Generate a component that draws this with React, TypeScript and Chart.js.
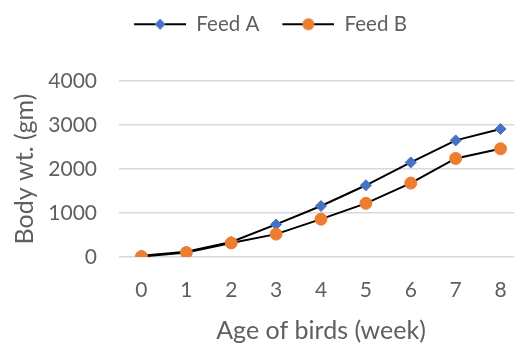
import React, { useEffect, useRef } from 'react';
import { Chart, registerables } from 'chart.js';

Chart.register(...registerables);

const ages = ['0', '1', '2', '3', '4', '5', '6', '7', '8'];
const feedA = [30, 120, 340, 740, 1160, 1630, 2150, 2650, 2910];
const feedB = [10, 100, 320, 520, 860, 1220, 1680, 2240, 2460];
const yMin = 0;
const yMax = 4000;
const yStep = 1000;

const FONT = 'Lato';
const TEXT = '#5f5f5f';
const GRID = '#d9d9d9';
const BLUE = '#4472c4';
const ORANGE = '#ed7d31';

function makeMarker(kind: 'diamond' | 'circle') {
  const c = document.createElement('canvas');
  const lead = 13;
  const len = 52;
  c.width = lead + len;
  c.height = 16;
  const ctx = c.getContext('2d')!;
  ctx.strokeStyle = '#000';
  ctx.lineWidth = 2;
  ctx.beginPath();
  ctx.moveTo(lead, 8);
  ctx.lineTo(lead + len, 8);
  ctx.stroke();
  const cx = lead + len / 2;
  ctx.beginPath();
  if (kind === 'diamond') {
    ctx.fillStyle = BLUE;
    ctx.moveTo(cx, 8 - 5.5);
    ctx.lineTo(cx + 5.5, 8);
    ctx.lineTo(cx, 8 + 5.5);
    ctx.lineTo(cx - 5.5, 8);
    ctx.closePath();
  } else {
    ctx.fillStyle = ORANGE;
    ctx.arc(cx, 8, 6, 0, Math.PI * 2);
  }
  ctx.fill();
  return c;
}

export default function App() {
  const ref = useRef<HTMLCanvasElement>(null);
  useEffect(() => {
    const canvas = ref.current!;
    const tickFont = { family: FONT, size: 21 };
    const titleFont = { family: FONT, size: 25 };
    const legendFont = { family: FONT, size: 20.5 };
    const markers = [makeMarker('diamond'), makeMarker('circle')];
    const legendFit = {
      id: 'legendFit',
      beforeInit(chart: any) {
        const lg = chart.legend;
        if (!lg) return;
        const orig = lg.fit.bind(lg);
        lg.fit = function () {
          orig();
          this.height = 77;
        };
      },
    };
    const chart = new Chart(canvas, {
      type: 'line',
      data: {
        labels: ages,
        datasets: [
          {
            label: 'Feed A',
            data: feedA,
            borderColor: '#000',
            borderWidth: 2,
            pointStyle: 'rectRot',
            pointRadius: 5.5,
            pointBackgroundColor: BLUE,
            pointBorderColor: BLUE,
            pointBorderWidth: 1,
            tension: 0,
            order: 1,
          },
          {
            label: 'Feed B',
            data: feedB,
            borderColor: '#000',
            borderWidth: 2,
            pointStyle: 'circle',
            pointRadius: 6,
            pointBackgroundColor: ORANGE,
            pointBorderColor: ORANGE,
            pointBorderWidth: 1,
            tension: 0,
            order: 0,
          },
        ],
      },
      options: {
        animation: false,
        responsive: false,
        devicePixelRatio: 1,
        layout: { padding: { top: 4, right: 2, bottom: 0, left: 0 } },
        plugins: {
          legend: {
            position: 'top',
            labels: {
              usePointStyle: true,
              pointStyleWidth: 65,
              boxHeight: 16,
              padding: 10,
              color: TEXT,
              font: legendFont,
              sort: (a: any, b: any) => a.datasetIndex - b.datasetIndex,
              generateLabels: (ch: any) => {
                const items = Chart.defaults.plugins.legend.labels.generateLabels(ch);
                items.forEach((it: any) => {
                  it.pointStyle = markers[it.datasetIndex];
                });
                return items;
              },
            },
          },
          tooltip: { enabled: false },
        },
        scales: {
          x: {
            offset: true,
            grid: { display: false, drawTicks: false },
            border: { display: false },
            ticks: { color: TEXT, font: tickFont, padding: 21 },
            title: {
              display: true,
              text: 'Age of birds (week)',
              color: TEXT,
              font: titleFont,
              padding: { top: 0, bottom: -2 },
            },
            afterFit: (s: any) => {
              s.height = 87;
            },
          },
          y: {
            min: yMin,
            max: yMax,
            ticks: {
              stepSize: yStep,
              color: TEXT,
              font: tickFont,
              padding: 22,
              callback: (v: any) => String(v),
            },
            grid: { color: GRID, lineWidth: 1.5, drawTicks: false },
            border: { display: false },
            title: {
              display: true,
              text: 'Body wt. (gm)',
              color: TEXT,
              font: titleFont,
              padding: { top: 10, bottom: 0 },
            },
            afterFit: (s: any) => {
              s.width = 119;
            },
          },
        },
      },
      plugins: [legendFit],
    } as any);
    return () => chart.destroy();
  }, []);
  return (
    <div
      style={{
        position: 'fixed',
        left: 0,
        top: 0,
        width: 514,
        height: 344,
        overflow: 'hidden',
        background: '#fff',
      }}
    >
      <canvas ref={ref} width={530} height={344} style={{ display: 'block' }} />
    </div>
  );
}
